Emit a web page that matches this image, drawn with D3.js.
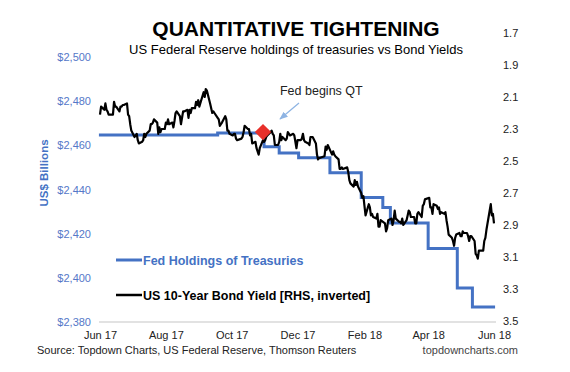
<!DOCTYPE html>
<html>
<head>
<meta charset="utf-8">
<script src="https://cdn.jsdelivr.net/npm/d3@7"></script>
<style>
  body { margin: 0; background: #fff; }
  svg { display: block; font-family: "Liberation Sans", Arial, Helvetica, sans-serif; }
</style>
</head>
<body>
<div id="chart"></div>
<script>
// Fed holdings of treasuries (US$ bn), step changes
var fedDates = ["2017-05-31","2017-09-18","2017-10-31","2017-11-14","2017-12-02","2017-12-31",
  "2018-01-29","2018-02-18","2018-02-25","2018-04-01","2018-04-28","2018-05-12","2018-06-02"];
var fedValues = [2464.7, 2465.6, 2459.4, 2456.5, 2454.4, 2447.6,
  2436.4, 2431.9, 2424.8, 2413.3, 2395.4, 2386.8, 2386.8];

// US 10-year yield (%)
var yieldDates = [
  "2017-06-01","2017-06-02","2017-06-05","2017-06-06","2017-06-07","2017-06-08","2017-06-09","2017-06-12","2017-06-13","2017-06-14","2017-06-15","2017-06-16","2017-06-19","2017-06-20","2017-06-21","2017-06-22","2017-06-23","2017-06-26","2017-06-27","2017-06-28","2017-06-29","2017-06-30",
  "2017-07-03","2017-07-05","2017-07-06","2017-07-07","2017-07-10","2017-07-11","2017-07-12","2017-07-13","2017-07-14","2017-07-17","2017-07-18","2017-07-19","2017-07-20","2017-07-21","2017-07-24","2017-07-25","2017-07-26","2017-07-27","2017-07-28","2017-07-31",
  "2017-08-01","2017-08-02","2017-08-03","2017-08-04","2017-08-07","2017-08-08","2017-08-09","2017-08-10","2017-08-11","2017-08-14","2017-08-15","2017-08-16","2017-08-17","2017-08-18","2017-08-21","2017-08-22","2017-08-23","2017-08-24","2017-08-25","2017-08-28","2017-08-29","2017-08-30","2017-08-31",
  "2017-09-01","2017-09-05","2017-09-06","2017-09-07","2017-09-08","2017-09-11","2017-09-12","2017-09-13","2017-09-14","2017-09-15","2017-09-18","2017-09-19","2017-09-20","2017-09-21","2017-09-22","2017-09-25","2017-09-26","2017-09-27","2017-09-28","2017-09-29",
  "2017-10-02","2017-10-03","2017-10-04","2017-10-05","2017-10-06","2017-10-10","2017-10-11","2017-10-12","2017-10-13","2017-10-16","2017-10-17","2017-10-18","2017-10-19","2017-10-20","2017-10-23","2017-10-24","2017-10-25","2017-10-26","2017-10-27","2017-10-30","2017-10-31",
  "2017-11-01","2017-11-02","2017-11-03","2017-11-06","2017-11-07","2017-11-08","2017-11-09","2017-11-10","2017-11-13","2017-11-14","2017-11-15","2017-11-16","2017-11-17","2017-11-20","2017-11-21","2017-11-22","2017-11-24","2017-11-27","2017-11-28","2017-11-29","2017-11-30",
  "2017-12-01","2017-12-04","2017-12-05","2017-12-06","2017-12-07","2017-12-08","2017-12-11","2017-12-12","2017-12-13","2017-12-14","2017-12-15","2017-12-18","2017-12-19","2017-12-20","2017-12-21","2017-12-22","2017-12-26","2017-12-27","2017-12-28","2017-12-29",
  "2018-01-02","2018-01-03","2018-01-04","2018-01-05","2018-01-08","2018-01-09","2018-01-10","2018-01-11","2018-01-12","2018-01-16","2018-01-17","2018-01-18","2018-01-19","2018-01-22","2018-01-23","2018-01-24","2018-01-25","2018-01-26","2018-01-29","2018-01-30","2018-01-31",
  "2018-02-01","2018-02-02","2018-02-05","2018-02-06","2018-02-07","2018-02-08","2018-02-09","2018-02-12","2018-02-13","2018-02-14","2018-02-15","2018-02-16","2018-02-20","2018-02-21","2018-02-22","2018-02-23","2018-02-26","2018-02-27","2018-02-28",
  "2018-03-01","2018-03-02","2018-03-05","2018-03-06","2018-03-07","2018-03-08","2018-03-09","2018-03-12","2018-03-13","2018-03-14","2018-03-15","2018-03-16","2018-03-19","2018-03-20","2018-03-21","2018-03-22","2018-03-23","2018-03-26","2018-03-27","2018-03-28","2018-03-29",
  "2018-04-02","2018-04-03","2018-04-04","2018-04-05","2018-04-06","2018-04-09","2018-04-10","2018-04-11","2018-04-12","2018-04-13","2018-04-16","2018-04-17","2018-04-18","2018-04-19","2018-04-20","2018-04-23","2018-04-24","2018-04-25","2018-04-26","2018-04-27","2018-04-30",
  "2018-05-01","2018-05-02","2018-05-03","2018-05-04","2018-05-07","2018-05-08","2018-05-09","2018-05-10","2018-05-11","2018-05-14","2018-05-15","2018-05-16","2018-05-17","2018-05-18","2018-05-21","2018-05-22","2018-05-23","2018-05-24","2018-05-25","2018-05-29","2018-05-30","2018-05-31",
  "2018-06-01"];
var yieldValues = [
  2.21,2.16,2.18,2.14,2.18,2.19,2.21,2.21,2.21,2.13,2.16,2.16,2.19,2.16,2.16,2.15,2.15,2.14,2.21,2.22,2.27,2.31,
  2.35,2.33,2.37,2.39,2.38,2.37,2.33,2.35,2.33,2.31,2.27,2.27,2.26,2.24,2.26,2.33,2.29,2.32,2.30,2.30,
  2.26,2.27,2.24,2.27,2.26,2.29,2.25,2.20,2.19,2.22,2.27,2.23,2.19,2.19,2.18,2.23,2.18,2.20,2.17,2.17,2.13,2.15,2.12,
  2.16,2.07,2.10,2.05,2.06,2.14,2.17,2.20,2.19,2.20,2.23,2.24,2.28,2.27,2.26,2.22,2.24,2.31,2.31,2.33,
  2.34,2.33,2.33,2.36,2.37,2.36,2.35,2.32,2.28,2.30,2.30,2.34,2.33,2.39,2.38,2.42,2.44,2.46,2.42,2.37,2.38,
  2.37,2.35,2.34,2.32,2.31,2.33,2.34,2.40,2.40,2.38,2.33,2.37,2.35,2.37,2.36,2.32,2.34,2.33,2.34,2.38,2.42,
  2.37,2.37,2.36,2.33,2.37,2.38,2.39,2.40,2.35,2.35,2.35,2.39,2.46,2.49,2.48,2.48,2.47,2.41,2.43,2.40,
  2.46,2.44,2.46,2.47,2.49,2.55,2.55,2.54,2.55,2.54,2.57,2.62,2.64,2.66,2.62,2.65,2.63,2.66,2.70,2.73,2.72,
  2.78,2.84,2.77,2.79,2.84,2.83,2.85,2.86,2.83,2.91,2.91,2.87,2.89,2.94,2.92,2.87,2.86,2.90,2.87,
  2.81,2.86,2.88,2.88,2.89,2.86,2.90,2.87,2.84,2.81,2.82,2.85,2.85,2.89,2.89,2.83,2.82,2.85,2.78,2.77,2.74,
  2.73,2.79,2.79,2.83,2.77,2.78,2.80,2.79,2.83,2.82,2.83,2.82,2.87,2.91,2.96,2.98,3.00,3.03,2.98,2.96,2.95,
  2.97,2.97,2.94,2.95,2.95,2.97,3.00,2.97,2.97,3.00,3.08,3.09,3.11,3.06,3.06,3.06,3.00,2.98,2.93,2.77,2.84,2.83,
  2.89];

var xTicks = ["2017-06-01","2017-08-01","2017-10-01","2017-12-01","2018-02-01","2018-04-01","2018-06-01"];
var leftTicks = [2380, 2400, 2420, 2440, 2460, 2480, 2500];
var rightTicks = [1.7, 1.9, 2.1, 2.3, 2.5, 2.7, 2.9, 3.1, 3.3, 3.5];
var qtStart = { date: "2017-10-30", value: 2466, label: "Fed begins QT" };

var parse = d3.timeParse("%Y-%m-%d");
var fedData = fedDates.map(function(d, i) { return { date: parse(d), value: fedValues[i] }; });
var yieldData = yieldDates.map(function(d, i) { return { date: parse(d), value: yieldValues[i] }; });

var width = 570, height = 372;
var blue = "#4472C4", axisBlue = "#5578C8";

var svg = d3.select("#chart").append("svg")
    .attr("width", width)
    .attr("height", height);

var x = d3.scaleTime()
    .domain([parse("2017-06-01"), parse("2018-06-01")])
    .range([100, 494]);
var yL = d3.scaleLinear().domain([2380, 2500]).range([322, 57]);
var yR = d3.scaleLinear().domain([1.7, 3.5]).range([33, 321]);

// titles
svg.append("text")
    .attr("x", 296).attr("y", 36)
    .attr("text-anchor", "middle")
    .style("font-size", "21px").style("font-weight", "bold")
    .text("QUANTITATIVE TIGHTENING");
svg.append("text")
    .attr("x", 296).attr("y", 53.5)
    .attr("text-anchor", "middle")
    .style("font-size", "13px")
    .text("US Federal Reserve holdings of treasuries vs Bond Yields");

// baseline
svg.append("line")
    .attr("x1", 99).attr("x2", 496)
    .attr("y1", yL(2380)).attr("y2", yL(2380))
    .attr("stroke", "#d9d9d9").attr("stroke-width", 1.5);

// left axis
var gL = svg.append("g")
    .attr("transform", "translate(91,0)")
    .call(d3.axisLeft(yL).tickValues(leftTicks).tickSize(0).tickPadding(0)
      .tickFormat(function(d) { return "$" + d3.format(",")(d); }));
gL.select(".domain").remove();
gL.selectAll("text").attr("fill", axisBlue).style("font-size", "11px").style("font-family", "inherit");

// right axis
var gR = svg.append("g")
    .attr("transform", "translate(503,0)")
    .call(d3.axisRight(yR).tickValues(rightTicks).tickSize(0).tickPadding(0)
      .tickFormat(d3.format(".1f")));
gR.select(".domain").remove();
gR.selectAll("text").attr("fill", "#222").style("font-size", "11px").style("font-family", "inherit");

// x axis
var gX = svg.append("g")
    .attr("transform", "translate(0," + yL(2380) + ")")
    .call(d3.axisBottom(x).tickValues(xTicks.map(parse)).tickSize(0).tickPadding(9)
      .tickFormat(d3.timeFormat("%b %y")));
gX.select(".domain").remove();
gX.selectAll("text").attr("fill", "#222").style("font-size", "11px").style("font-family", "inherit");

// y title
svg.append("text")
    .attr("transform", "translate(48,173) rotate(-90)")
    .attr("text-anchor", "middle")
    .attr("fill", blue)
    .style("font-size", "11.5px").style("font-weight", "bold")
    .text("US$ Billions");

// Fed holdings line
svg.append("path")
    .datum(fedData)
    .attr("fill", "none")
    .attr("stroke", blue)
    .attr("stroke-width", 3)
    .attr("d", d3.line().curve(d3.curveStepAfter)
      .x(function(d) { return x(d.date); })
      .y(function(d) { return yL(d.value); }));

// yield line
svg.append("path")
    .datum(yieldData)
    .attr("fill", "none")
    .attr("stroke", "#000")
    .attr("stroke-width", 2.2)
    .attr("stroke-linejoin", "round")
    .attr("d", d3.line()
      .x(function(d) { return x(d.date); })
      .y(function(d) { return yR(d.value); }));

// QT marker
var qx = x(parse(qtStart.date)), qy = yL(qtStart.value);
svg.append("path")
    .attr("d", d3.symbol().type(d3.symbolDiamond2).size(170)())
    .attr("transform", "translate(" + qx + "," + qy + ")")
    .attr("fill", "#e8302a");

svg.append("defs").append("marker")
    .attr("id", "arr")
    .attr("viewBox", "0 0 10 10")
    .attr("refX", 9).attr("refY", 5)
    .attr("markerWidth", 7).attr("markerHeight", 7)
    .attr("orient", "auto")
  .append("path")
    .attr("d", "M0,1 L10,5 L0,9 Z")
    .attr("fill", "#8eb4e3");
svg.append("line")
    .attr("x1", qx + 36).attr("y1", qy - 29)
    .attr("x2", qx + 17).attr("y2", qy - 13)
    .attr("stroke", "#8eb4e3").attr("stroke-width", 1.2)
    .attr("marker-end", "url(#arr)");
svg.append("text")
    .attr("x", qx + 17).attr("y", qy - 37)
    .style("font-size", "12.5px")
    .attr("fill", "#222")
    .text(qtStart.label);

// legend
var legend = [
  { label: "Fed Holdings of Treasuries", color: blue, y: 260, w: 3 },
  { label: "US 10-Year Bond Yield [RHS, inverted]", color: "#000", y: 295, w: 2.5 }
];
legend.forEach(function(l) {
  svg.append("line")
      .attr("x1", 116).attr("x2", 142)
      .attr("y1", l.y).attr("y2", l.y)
      .attr("stroke", l.color).attr("stroke-width", l.w);
  svg.append("text")
      .attr("x", 143).attr("y", l.y + 4.5)
      .attr("fill", l.color)
      .style("font-size", "12.5px").style("font-weight", "bold")
      .text(l.label);
});

// footer
svg.append("text")
    .attr("x", 37).attr("y", 354)
    .attr("fill", "#222")
    .style("font-size", "11px")
    .text("Source: Topdown Charts, US Federal Reserve, Thomson Reuters");
svg.append("text")
    .attr("x", 518).attr("y", 354)
    .attr("text-anchor", "end")
    .attr("fill", "#444")
    .style("font-size", "11px")
    .text("topdowncharts.com");
</script>
</body>
</html>
